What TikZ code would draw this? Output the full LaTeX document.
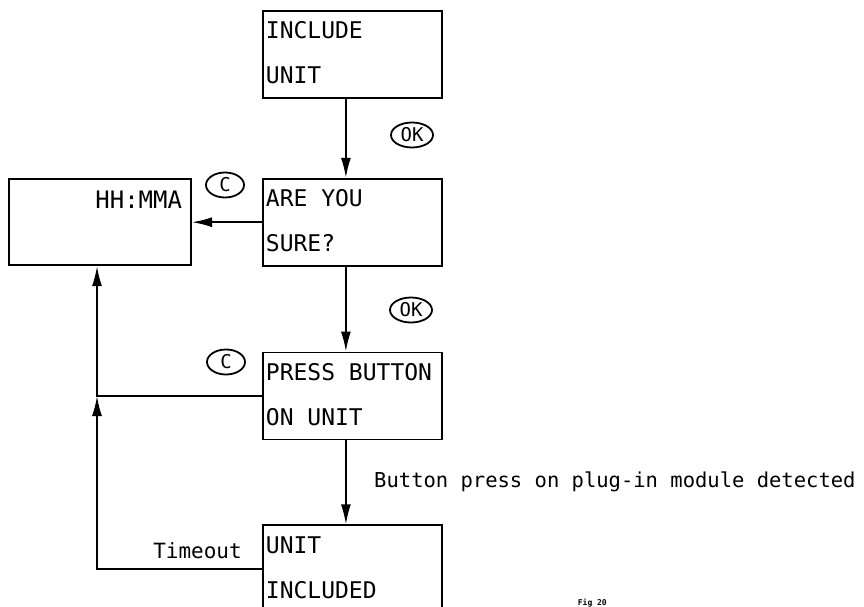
\documentclass[tikz,border=0pt]{standalone}
\usepackage{fontspec}
\newfontfamily\cadfont{DejaVu Sans Mono}
\usetikzlibrary{arrows.meta,positioning,shapes.geometric}

\begin{document}
\begin{tikzpicture}[x=1pt, y=-1pt, line width=1.8pt, node distance=80pt and 70pt,
  every node/.style={font=\cadfont},
  menubox/.style={draw, rectangle, anchor=north west, text width=173pt, align=left,
    inner xsep=3pt, inner ysep=4pt, text height=24pt, text depth=55pt,
    execute at begin node={\spaceskip=0pt\relax},
    font=\cadfont\fontsize{23}{45}\selectfont},
  keycap/.style={draw, ellipse, minimum width=42pt, minimum height=25pt, inner sep=0pt,
    font=\cadfont\fontsize{19}{19}\selectfont},
  arr/.style={-{Latex[length=20pt,width=10pt]}}]
\useasboundingbox (0,0) rectangle (864,607);

\node[menubox] (box1) at (262,10) {INCLUDE\\UNIT};
\node[menubox, below=79pt of box1] (box2) {ARE YOU\\SURE?};
\node[menubox, below=85pt of box2] (box3) {PRESS BUTTON\\ON UNIT};
\node[menubox, below=84pt of box3] (box4) {UNIT\\INCLUDED};
\node[menubox, left=70pt of box2, align=right, text width=164pt, inner xsep=9pt,
  text height=25pt, text depth=53pt, font=\cadfont\fontsize{24}{45}\selectfont] (hh) {HH:MMA};

\node[keycap] (ok1) at (412,135) {OK};
\node[keycap] (ok2) at (411,310) {OK};
\node[keycap, minimum width=38pt] (c1) at (225,185) {C};
\node[keycap, minimum width=38pt] (c2) at (226,362) {C};

\node[anchor=base west, font=\cadfont\fontsize{20.5}{20.5}\selectfont] (detect) at (370,487) {Button press on plug-in module detected};
\node[anchor=base east, font=\cadfont\fontsize{21}{21}\selectfont] (tmo) at (246,558) {Timeout};
\node[anchor=base west, inner sep=0pt, font=\cadfont\bfseries\fontsize{8}{8}\selectfont] (fig) at (577,605) {Fig 20};

\coordinate (rail) at (97,0);

\draw[arr] ([xshift=-6.5pt]box1.south) -- ([xshift=-6.5pt]box2.north);
\draw[arr] ([xshift=-6.5pt]box2.south) -- ([xshift=-6.5pt]box3.north);
\draw[arr] ([xshift=-6.5pt]box3.south) -- ([xshift=-6.5pt]box4.north);
\draw[arr] (box2.west) -- (hh.east);
\draw[arr] (box3.west) -- (box3.west -| rail) -- (hh.south -| rail);
\draw[arr] (box4.west) -- (box4.west -| rail) -- (box3.west -| rail);
\end{tikzpicture}
\end{document}
